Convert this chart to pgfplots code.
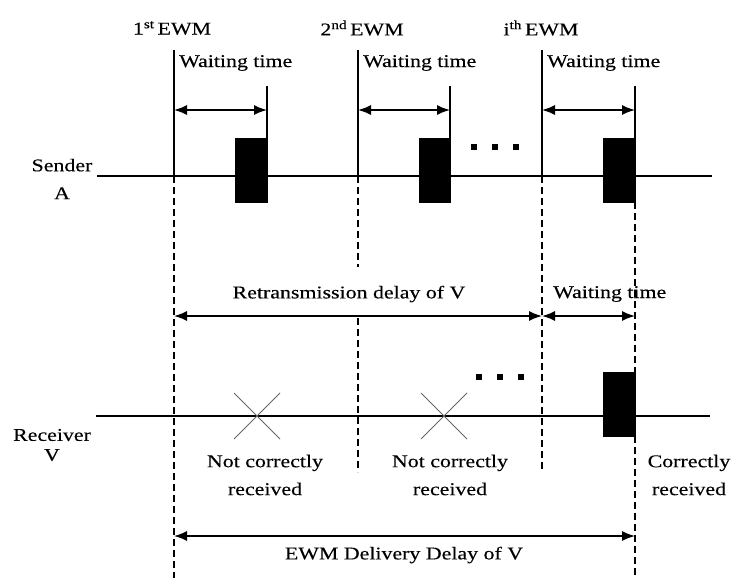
\documentclass[border=0pt]{standalone}
\usepackage{pgfplots}
\pgfplotsset{compat=1.18}
\usepackage{fontspec}
\setmainfont{Liberation Serif}[FakeStretch=1.22,FakeBold=0.25]
\usetikzlibrary{arrows.meta}
\begin{document}
\begin{tikzpicture}[font=\fontsize{18}{20}\selectfont]
\begin{axis}[
  width=734bp, height=578bp, scale only axis,
  xmin=0, xmax=734, ymin=0, ymax=578, y dir=reverse,
  hide axis, clip=false,
  every axis plot/.append style={line width=1.5bp},
]
\path (axis cs:0,0) rectangle (axis cs:734,578);
% time lines
\addplot[black, line width=1.6bp] coordinates {(97,176) (712,176)};
\addplot[black, line width=1.6bp] coordinates {(96,416) (710,416)};
% EWM solid verticals
\addplot[black] coordinates {(174,50) (174,176)};
\addplot[black] coordinates {(358,50) (358,176)};
\addplot[black] coordinates {(542,50) (542,176)};
% short verticals at end of waiting time
\addplot[black] coordinates {(267,86) (267,138)};
\addplot[black] coordinates {(450,86) (450,138)};
\addplot[black] coordinates {(635,86) (635,138)};
% dashed verticals
\addplot[black, line width=1.1bp, dash pattern=on 7bp off 4bp] coordinates {(174,176) (174,578)};
\addplot[black, line width=1.1bp, dash pattern=on 7bp off 4bp] coordinates {(358,176) (358,267)};
\addplot[black, line width=1.1bp, dash pattern=on 7bp off 4bp] coordinates {(358,318) (358,472)};
\addplot[black, line width=1.1bp, dash pattern=on 7bp off 4bp] coordinates {(542,176) (542,472)};
\addplot[black, line width=1.1bp, dash pattern=on 7bp off 4bp] coordinates {(635,202) (635,372)};
\addplot[black, line width=1.1bp, dash pattern=on 7bp off 4bp] coordinates {(635,436) (635,578)};
% sender packets
\addplot[fill=black, draw=black, line width=0.5bp] coordinates {(235,138) (267,138) (267,202) (235,202)} -- cycle;
\addplot[fill=black, draw=black, line width=0.5bp] coordinates {(419,138) (450,138) (450,202) (419,202)} -- cycle;
\addplot[fill=black, draw=black, line width=0.5bp] coordinates {(603,138) (635,138) (635,202) (603,202)} -- cycle;
% receiver packet
\addplot[fill=black, draw=black, line width=0.5bp] coordinates {(603,372) (635,372) (635,436) (603,436)} -- cycle;
% dots
\addplot[only marks, mark=square*, mark size=2.3bp, black] coordinates {(474,147) (495,147) (516,147)};
\addplot[only marks, mark=square*, mark size=2.3bp, black] coordinates {(479,377) (500,377) (521,377)};
% crosses
\addplot[gray!80!black, line width=1bp] coordinates {(234,393) (280,439)};
\addplot[gray!80!black, line width=1bp] coordinates {(234,439) (280,393)};
\addplot[gray!80!black, line width=1bp] coordinates {(421,393) (467,439)};
\addplot[gray!80!black, line width=1bp] coordinates {(421,439) (467,393)};
% waiting time arrows (sender)
\addplot[black, {Latex[length=13bp,width=10bp]}-{Latex[length=13bp,width=10bp]}] coordinates {(174,110) (267,110)};
\addplot[black, {Latex[length=13bp,width=10bp]}-{Latex[length=13bp,width=10bp]}] coordinates {(358,110) (450,110)};
\addplot[black, {Latex[length=13bp,width=10bp]}-{Latex[length=13bp,width=10bp]}] coordinates {(542,110) (635,110)};
% retransmission delay and waiting time
\addplot[black, {Latex[length=13bp,width=10bp]}-{Latex[length=13bp,width=10bp]}] coordinates {(174,316) (542,316)};
\addplot[black, {Latex[length=13bp,width=10bp]}-{Latex[length=13bp,width=10bp]}] coordinates {(542,316) (635,316)};
% delivery delay
\addplot[black, {Latex[length=13bp,width=10bp]}-{Latex[length=13bp,width=10bp]}] coordinates {(174,536) (635,536)};
% labels
\node at (axis cs:172,28) {1\textsuperscript{st}\,EWM};
\node at (axis cs:362,28) {2\textsuperscript{nd}\,EWM};
\node at (axis cs:541,28) {i\textsuperscript{th}\,EWM};
\node[anchor=west, inner sep=0pt] at (axis cs:179,63) {Waiting time};
\node[anchor=west, inner sep=0pt] at (axis cs:363,63) {Waiting time};
\node[anchor=west, inner sep=0pt] at (axis cs:547,63) {Waiting time};
\node[align=center, inner sep=0pt, font=\fontsize{18}{28}\selectfont] at (axis cs:62,179) {Sender\\A};
\node[align=center, inner sep=0pt] at (axis cs:52,445) {Receiver\\V};
\node[inner sep=0pt] at (axis cs:349,294) {Retransmission delay of V};
\node[anchor=west, inner sep=0pt] at (axis cs:553,294) {Waiting time};
\node[align=center, inner sep=0pt, font=\fontsize{18}{28}\selectfont] at (axis cs:265,475) {Not correctly\\received};
\node[align=center, inner sep=0pt, font=\fontsize{18}{28}\selectfont] at (axis cs:450,475) {Not correctly\\received};
\node[align=center, inner sep=0pt, font=\fontsize{18}{28}\selectfont] at (axis cs:689,475) {Correctly\\received};
\node[inner sep=0pt] at (axis cs:404,555) {EWM Delivery Delay of V};
\end{axis}
\end{tikzpicture}
\end{document}
